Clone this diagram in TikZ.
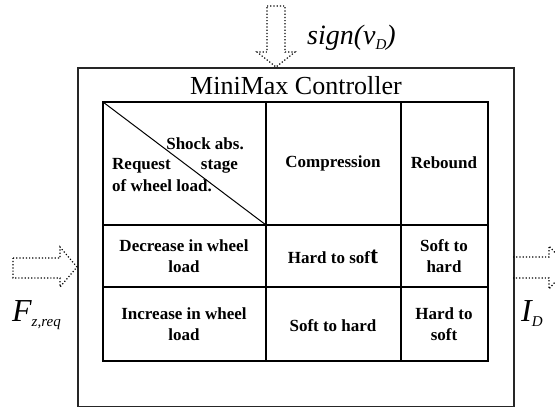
\documentclass[tikz,border=0pt]{standalone}
\usepackage{fontspec}
\setmainfont{Liberation Serif}
\newcommand{\lowsub}[1]{\raisebox{-5pt}{\fontsize{15}{15}\selectfont #1}}
\begin{document}
\begin{tikzpicture}[x=1pt,y=-1pt,
  celltext/.style={font=\bfseries\fontsize{17}{20.5}\selectfont, align=center, inner sep=0pt},
  biglabel/.style={font=\fontsize{28}{30}\selectfont\itshape, inner sep=0pt},
  blockarrow/.style={dotted, line width=1.2pt, line join=miter},
  tableline/.style={line width=2pt},
  outerbox/.style={line width=1.5pt, draw=black!85}]
\useasboundingbox (0,0) rectangle (555,408);
\clip (0,0) rectangle (555,408);
% outer box
\draw[outerbox] (78,68) rectangle (514,406.5);
\node (title) at (296,86) {\fontsize{26}{30}\selectfont MiniMax Controller};
% table
\coordinate (tl) at (103,102);
\coordinate (br) at (488,361);
\draw[tableline] (tl) rectangle (br);
\draw[tableline] (266,102) -- (266,361);
\draw[tableline] (401,102) -- (401,361);
\draw[tableline] (103,225) -- (488,225);
\draw[tableline] (103,287) -- (488,287);
\draw[line width=1pt] (tl) -- (266,225);
% header cell
\node[celltext, anchor=base east] (shock) at (244,149) {Shock abs.};
\node[celltext, anchor=base west] (req) at (112,169) {Request};
\node[celltext, anchor=base east] (stage) at (238,169) {stage};
\node[celltext, anchor=base west] (ofw) at (112,191) {of wheel load.};
\node[celltext] (comp) at (333,163) {Compression};
\node[celltext] (reb) at (444,163) {Rebound};
% row 2
\node[celltext] (dec) at (184,256) {Decrease in wheel\\load};
\node[celltext] (hts) at (333,257) {Hard to sof{\fontsize{24}{24}\selectfont t}};
\node[celltext] (sth) at (444,256) {Soft to\\hard};
% row 3
\node[celltext] (inc) at (184,324) {Increase in wheel\\load};
\node[celltext] (sth2) at (333,326) {Soft to hard};
\node[celltext] (hts2) at (444,324) {Hard to\\soft};
% top arrow
\draw[blockarrow] (267,6) -- (285,6) -- (285,52) -- (295,52) -- (276,67) -- (257,52) -- (267,52) -- cycle;
\node[biglabel, anchor=base west] (sign) at (307,44) {sign(v\lowsub{D})};
% left arrow
\draw[blockarrow] (13,258) -- (60,258) -- (60,247) -- (77,267) -- (60,287) -- (60,278) -- (13,278) -- cycle;
\node[biglabel, anchor=base west, font=\fontsize{32}{34}\selectfont\itshape] (F) at (12,321) {F\lowsub{z,req}};
% right arrow
\draw[blockarrow] (513,257) -- (549,257) -- (549,246) -- (568,267) -- (549,289) -- (549,278) -- (513,278);
\node[biglabel, anchor=base west, font=\fontsize{32}{34}\selectfont\itshape] (ID) at (521,321) {I\lowsub{D}};
\end{tikzpicture}
\end{document}
